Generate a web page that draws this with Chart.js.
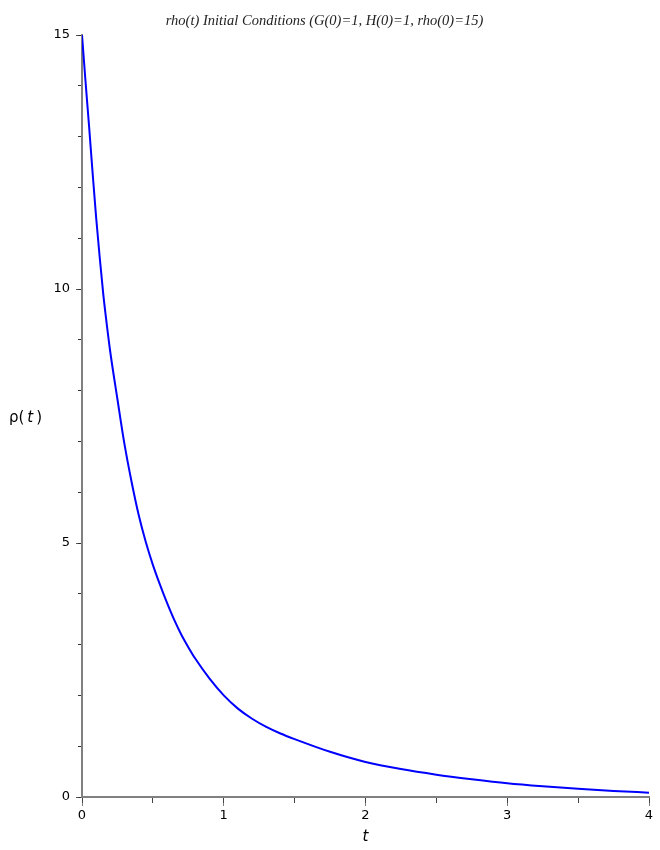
<!DOCTYPE html>
<html>
<head>
<meta charset="utf-8">
<script src="https://cdn.jsdelivr.net/npm/chart.js@4/dist/chart.umd.min.js"></script>
<style>
    html, body { margin: 0; padding: 0; background: #fff; }
    #wrap { width: 660px; height: 850px; }
</style>
</head>
<body>
<div id="wrap"><canvas id="rho-chart" width="660" height="850"></canvas></div>
<script>
// values
const tValues = [0, 0.025, 0.05, 0.075, 0.1, 0.125, 0.15, 0.175, 0.2, 0.25, 0.3, 0.35, 0.4, 0.45, 0.5, 0.55, 0.6,
    0.65, 0.7, 0.75, 0.8, 0.9, 1.0, 1.1, 1.2, 1.3, 1.4, 1.5, 1.75, 2.0, 2.25, 2.5, 2.75, 3.0, 3.25, 3.5, 3.75, 4.0];
const rhoValues = [15.0, 14.08, 13.2, 12.28, 11.4, 10.62, 9.9, 9.3, 8.75, 7.83, 6.94, 6.2, 5.55, 5.02, 4.57, 4.18, 3.82,
    3.49, 3.2, 2.95, 2.72, 2.33, 2.0, 1.74, 1.54, 1.38, 1.25, 1.14, 0.89, 0.69, 0.55, 0.44, 0.35, 0.27, 0.21, 0.16, 0.12, 0.085];

const xTicks = [0, 1, 2, 3, 4];
const yTicks = [0, 5, 10, 15];

const titleText = 'rho(t) Initial Conditions (G(0)=1, H(0)=1, rho(0)=15)';
const xTitle = 't';

const points = tValues.map((t, i) => ({ x: t, y: rhoValues[i] }));

// horizontal y label "ρ(t)" like the original
const yLabelPlugin = {
    id: 'yLabel',
    afterDraw(chart) {
        const ctx = chart.ctx;
        const y = (chart.chartArea.top + chart.chartArea.bottom) / 2 + 2;
        ctx.save();
        ctx.fillStyle = '#000';
        ctx.textBaseline = 'middle';
        ctx.textAlign = 'left';
        let x = 9;
        ctx.font = '15px "DejaVu Sans"';
        ctx.fillText('ρ(', x, y);
        x += ctx.measureText('ρ(').width + 3;
        ctx.font = 'italic 15px "DejaVu Sans"';
        ctx.fillText('t', x, y);
        x += ctx.measureText('t').width + 3;
        ctx.font = '15px "DejaVu Sans"';
        ctx.fillText(')', x, y);
        ctx.restore();
    }
};

const tickFont = { family: '"DejaVu Sans"', size: 13 };

new Chart(document.getElementById('rho-chart'), {
    type: 'line',
    data: {
        datasets: [{
            data: points,
            borderColor: '#0000ff',
            borderWidth: 2,
            pointRadius: 0,
            cubicInterpolationMode: 'monotone',
            fill: false
        }]
    },
    options: {
        responsive: false,
        animation: false,
        layout: { padding: { left: 0, right: 11, top: 0, bottom: 0 } },
        plugins: {
            legend: { display: false },
            tooltip: { enabled: false },
            title: {
                display: true,
                text: titleText,
                color: '#222',
                font: { family: '"Liberation Serif"', style: 'italic', size: 14.5, weight: 'normal' },
                padding: { top: 12, bottom: 5.6 }
            }
        },
        scales: {
            x: {
                type: 'linear',
                min: 0,
                max: 4,
                afterBuildTicks: s => { s.ticks = xTicks.map(v => ({ value: v })); },
                afterFit: s => { s.height = 53; },
                grid: { drawOnChartArea: false, drawTicks: true, tickLength: 9, tickColor: '#808080', tickWidth: 1 },
                border: { color: '#808080', width: 2 },
                ticks: { color: '#000', font: tickFont, padding: 2, maxRotation: 0 },
                title: {
                    display: true,
                    text: xTitle,
                    color: '#000',
                    font: { family: '"DejaVu Sans"', style: 'italic', size: 15 },
                    padding: { top: 0, bottom: 4 }
                }
            },
            y: {
                type: 'linear',
                min: 0,
                max: 15,
                afterBuildTicks: s => { s.ticks = yTicks.map(v => ({ value: v })); },
                afterFit: s => { s.width = 82; },
                grid: { drawOnChartArea: false, drawTicks: true, tickLength: 6, tickColor: '#555', tickWidth: 1 },
                border: { color: '#808080', width: 2 },
                ticks: { color: '#000', font: tickFont, padding: 6 }
            },
            // minor ticks
            xMinor: {
                type: 'linear',
                axis: 'x',
                position: { y: 0 },
                min: 0,
                max: 4,
                grid: { drawOnChartArea: false, drawTicks: true, tickLength: 6, tickColor: '#444', tickWidth: 1 },
                border: { display: false },
                ticks: { display: false, stepSize: 0.5 }
            },
            yMinor: {
                type: 'linear',
                axis: 'y',
                position: { x: 0 },
                min: 0,
                max: 15,
                grid: { drawOnChartArea: false, drawTicks: true, tickLength: 4, tickColor: '#333', tickWidth: 1 },
                border: { display: false },
                ticks: { display: false, stepSize: 1, maxTicksLimit: 20 }
            }
        }
    },
    plugins: [yLabelPlugin]
});
</script>
</body>
</html>
